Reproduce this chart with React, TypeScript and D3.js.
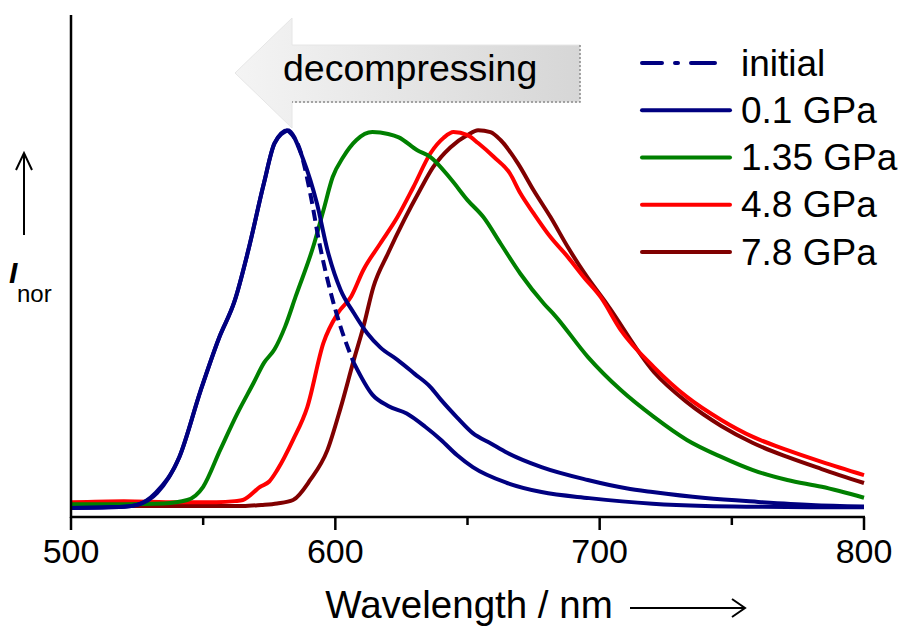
import React from "react";
import * as d3 from "d3";

// wavelength (nm) / normalized intensity
const wlInitial = [500, 520, 525, 532, 541, 549, 556, 562, 567, 573, 577, 582, 587, 590.5, 594, 598, 602, 607, 614, 620, 627, 634, 640, 646, 652, 665, 678, 696, 720, 740, 760, 780, 800];
const iInitial = [0.0, 0.003, 0.008, 0.04, 0.135, 0.31, 0.45, 0.55, 0.68, 0.86, 0.965, 1.0, 0.94, 0.833, 0.7, 0.577, 0.479, 0.384, 0.3, 0.27, 0.25, 0.215, 0.18, 0.14, 0.108, 0.066, 0.042, 0.026, 0.011, 0.005, 0.003, 0.002, 0.002];

const wl01 = [500, 520, 525, 532.6, 541, 549, 556, 562, 567, 573, 577, 582, 588, 593, 597, 602, 607, 612, 617, 623.5, 630, 636, 640, 646, 652, 659, 665, 678, 695.5, 710, 720, 740, 760, 780, 800];
const i01 = [0.0, 0.003, 0.008, 0.04, 0.135, 0.31, 0.45, 0.55, 0.68, 0.86, 0.966, 1.0, 0.92, 0.807, 0.683, 0.577, 0.516, 0.463, 0.425, 0.392, 0.355, 0.32, 0.286, 0.24, 0.198, 0.17, 0.146, 0.108, 0.074, 0.052, 0.042, 0.026, 0.016, 0.008, 0.004];

const wl135 = [500, 520, 535, 544, 550, 556.4, 563, 569, 573, 577, 581, 585, 592, 595.5, 599, 603, 608, 614, 620, 624, 631, 636, 644, 650, 656, 662.5, 670, 679, 683, 695.5, 708, 720.5, 733, 746, 758, 771, 784, 800];
const i135 = [0.01, 0.01, 0.012, 0.021, 0.056, 0.153, 0.251, 0.33, 0.384, 0.42, 0.48, 0.56, 0.7, 0.788, 0.876, 0.929, 0.974, 0.995, 0.99, 0.981, 0.947, 0.929, 0.868, 0.815, 0.77, 0.7, 0.62, 0.54, 0.51, 0.4, 0.312, 0.241, 0.18, 0.135, 0.1, 0.074, 0.056, 0.027];

const wl48 = [500, 520, 540, 555, 562, 565, 571.6, 575, 578, 584, 589.4, 595.5, 601, 606, 610.6, 617, 623.5, 629.5, 636, 641, 644.7, 650, 654, 660, 666, 670, 675, 681.4, 688, 694, 700.4, 708, 720.5, 733, 746, 758, 771, 784, 800];
const i48 = [0.015, 0.018, 0.015, 0.015, 0.018, 0.021, 0.056, 0.07, 0.1, 0.18, 0.267, 0.437, 0.516, 0.56, 0.63, 0.7, 0.77, 0.849, 0.939, 0.98, 0.995, 0.987, 0.966, 0.929, 0.886, 0.833, 0.78, 0.717, 0.664, 0.611, 0.558, 0.471, 0.373, 0.294, 0.233, 0.188, 0.153, 0.122, 0.087];

const wl78 = [500, 540, 565, 572, 578, 584, 590.5, 597, 602, 607, 610.6, 614.4, 620, 626, 632, 637, 643.6, 650, 654, 658.7, 662.5, 669, 675, 681.4, 688, 694, 703, 720.5, 733, 746, 758, 771, 784, 800];
const i78 = [0.005, 0.005, 0.005, 0.008, 0.012, 0.021, 0.074, 0.153, 0.265, 0.392, 0.479, 0.585, 0.675, 0.762, 0.841, 0.902, 0.955, 0.987, 1.0, 0.995, 0.974, 0.913, 0.841, 0.77, 0.69, 0.624, 0.537, 0.36, 0.28, 0.217, 0.172, 0.135, 0.103, 0.066];

const legendLabels = ["initial", "0.1 GPa", "1.35 GPa", "4.8 GPa", "7.8 GPa"];
const xTicks = [500, 600, 700, 800];
const xMinorTicks = [550, 650, 750];

const FONT = "'Liberation Sans', Arial, sans-serif";
const NAVY = "#000080";

type Pt = { x: number; y: number };
const zip = (xs: number[], ys: number[]): Pt[] => xs.map((x, i) => ({ x, y: ys[i] }));

export default function App() {
  const xScale = d3.scaleLinear().domain([500, 800]).range([71, 864]);
  const yScale = d3.scaleLinear().domain([-0.024, 1.305]).range([517, 15]);

  const line = d3
    .line<Pt>()
    .x(d => xScale(d.x))
    .y(d => yScale(d.y))
    .curve(d3.curveMonotoneX);

  const initial = zip(wlInitial, iInitial);
  // Origin draws the dash only where the steep part is, the dense tail looks solid
  const solidInit = line.defined(d => d.x <= 582 || d.x >= 607)(initial);
  const dashInit = line.defined(d => d.x >= 582 && d.x <= 607)(initial);
  line.defined(() => true);

  const series = [
    { pts: zip(wl78, i78), color: "#800000" },
    { pts: zip(wl48, i48), color: "#ff0000" },
    { pts: zip(wl135, i135), color: "#008000" },
    { pts: zip(wl01, i01), color: NAVY },
  ];

  const legendColors = [NAVY, NAVY, "#008000", "#ff0000", "#800000"];
  const legendY = d3.scalePoint<string>().domain(legendLabels).range([63, 252]);

  const y0 = yScale.range()[0];

  return (
    <svg
      width={907}
      height={631}
      style={{ position: "absolute", left: 0, top: 0, background: "#fff" }}
      fontFamily={FONT}
    >
      <defs>
        <linearGradient id="arrowGrad" x1="0" y1="0" x2="1" y2="0">
          <stop offset="0%" stopColor="#f4f4f4" />
          <stop offset="100%" stopColor="#d6d6d6" />
        </linearGradient>
      </defs>

      {/* grey arrow */}
      <polygon
        points="235,73 292,18 292,45 580,45 580,102 292,102 292,128"
        fill="url(#arrowGrad)"
        stroke="#e6e6e6"
        strokeWidth={1}
      />
      <polyline points="580,45 580,102 292,102" fill="none" stroke="#8a8a8a" strokeWidth={1.5} strokeDasharray="2,2" />
      <text x={283} y={81} fontSize={37.5} fill="#000">decompressing</text>

      {/* curves */}
      {series.map((s, i) => (
        <path key={i} d={line(s.pts) || ""} fill="none" stroke={s.color} strokeWidth={4} strokeLinejoin="round" />
      ))}
      <path d={solidInit || ""} fill="none" stroke={NAVY} strokeWidth={4} />
      <path d={dashInit || ""} fill="none" stroke={NAVY} strokeWidth={4} strokeDasharray="11,6" />

      {/* axes */}
      <line x1={71} x2={71} y1={15} y2={y0 + 1} stroke="#000" strokeWidth={2.5} />
      <line x1={70} x2={xScale(800) + 1} y1={y0} y2={y0} stroke="#000" strokeWidth={2.5} />
      {xTicks.map(t => (
        <g key={t}>
          <line x1={xScale(t)} x2={xScale(t)} y1={y0} y2={y0 + 13} stroke="#000" strokeWidth={2.5} />
          <text x={xScale(t)} y={563} fontSize={34} textAnchor="middle">{t}</text>
        </g>
      ))}
      {xMinorTicks.map(t => (
        <line key={t} x1={xScale(t)} x2={xScale(t)} y1={y0} y2={y0 + 8} stroke="#000" strokeWidth={2.5} />
      ))}

      {/* x label */}
      <text x={469} y={618} fontSize={38.5} textAnchor="middle">Wavelength / nm</text>
      <line x1={630} x2={745} y1={608} y2={608} stroke="#000" strokeWidth={2} />
      <polyline points="732,599 745,608 732,617" fill="none" stroke="#000" strokeWidth={2} />

      {/* y label */}
      <line x1={24} x2={24} y1={235} y2={153} stroke="#000" strokeWidth={2} />
      <polyline points="16,170 24,153 32,170" fill="none" stroke="#000" strokeWidth={2} />
      <text x={9} y={283} fontSize={30} fontWeight="bold" fontStyle="italic">I</text>
      <text x={17} y={302} fontSize={24}>nor</text>

      {/* legend */}
      {legendLabels.map((lab, i) => {
        const y = legendY(lab) || 0;
        return (
          <g key={lab}>
            <line
              x1={642}
              x2={730}
              y1={y}
              y2={y}
              stroke={legendColors[i]}
              strokeWidth={4}
              strokeLinecap="round"
              strokeDasharray={i === 0 ? "20,13,3,13,24" : undefined}
            />
            <text x={741} y={y + 12.5} fontSize={37}>{lab}</text>
          </g>
        );
      })}
    </svg>
  );
}
